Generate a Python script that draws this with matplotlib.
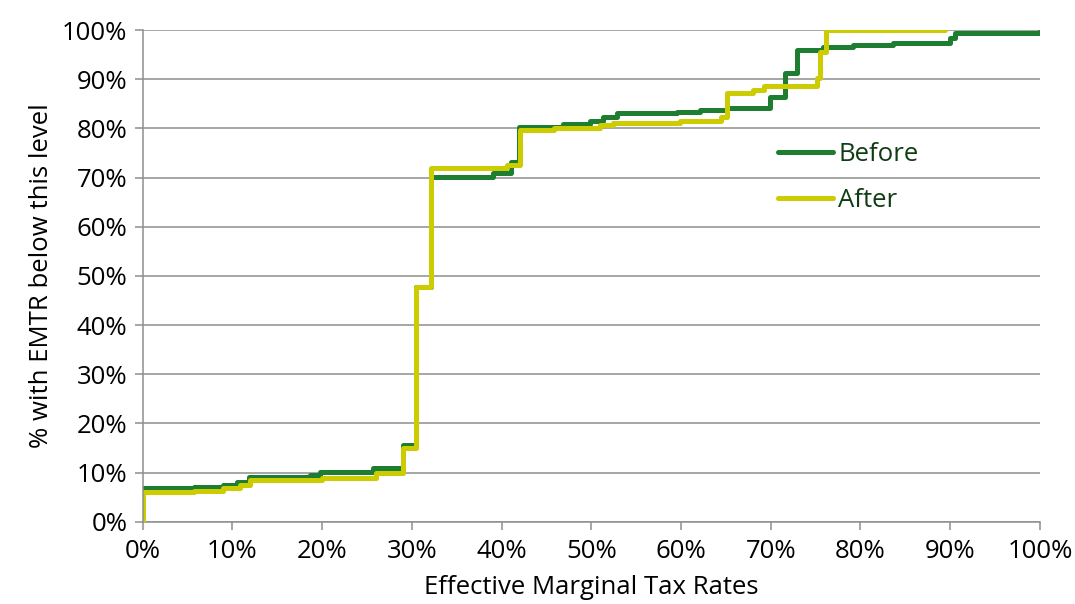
import matplotlib
matplotlib.use("Agg")
import matplotlib.pyplot as plt
from matplotlib.ticker import PercentFormatter

# step points (EMTR %, cumulative share %)
before_x = [0, 0, 5.7, 8.9, 10.5, 11.8, 18.7, 19.8, 25.7, 29.0, 30.5, 32.1, 39.1,
            41.0, 41.9, 46.9, 49.9, 51.3, 52.9, 59.6, 62.1, 65.1, 69.9, 71.6,
            72.9, 75.8, 79.2, 83.6, 90.0, 90.5, 100]
before_y = [0, 6.9, 7.1, 7.4, 8.1, 9.1, 9.5, 10.1, 10.9, 15.5, 47.8, 70.2, 71.0,
            73.2, 80.3, 80.9, 81.5, 82.3, 83.1, 83.3, 83.7, 84.2, 86.4, 91.3,
            95.9, 96.5, 97.0, 97.3, 98.3, 99.3, 99.8]

after_x = [0, 0, 5.7, 9.0, 10.9, 12.0, 20.0, 26.0, 29.0, 30.5, 32.1, 40.6, 42.1,
           45.8, 51.0, 52.4, 59.9, 64.4, 65.1, 68.0, 69.2, 75.2, 75.5, 76.2, 89.4]
after_y = [0, 6.1, 6.3, 6.9, 7.5, 8.5, 8.9, 10.0, 15.0, 47.8, 72.0, 72.6, 79.7,
           80.0, 80.7, 81.1, 81.5, 82.3, 87.2, 87.8, 88.6, 90.2, 95.5, 100, 100]

x_ticks = list(range(0, 101, 10))
y_ticks = list(range(0, 101, 10))

GREEN = "#1d7e32"
YELLOW = "#cccc00"
GRAY = "#8c8f8a"


def main():
    plt.rcParams["font.family"] = ["Open Sans", "DejaVu Sans"]
    fig = plt.figure(figsize=(10.75, 6.04), dpi=100)
    ax = fig.add_axes([0.1327, 0.1363, 0.8347, 0.814])

    ax.plot(before_x, before_y, drawstyle="steps-post", color=GREEN,
            lw=3.6, label="Before", solid_capstyle="round", zorder=3)
    ax.plot(after_x, after_y, drawstyle="steps-post", color=YELLOW,
            lw=3.6, label="After", solid_capstyle="round", zorder=4)

    ax.set_xlim(0, 100)
    ax.set_ylim(0, 100)
    ax.set_xticks(x_ticks)
    ax.set_yticks(y_ticks)
    ax.xaxis.set_major_formatter(PercentFormatter(decimals=0))
    ax.yaxis.set_major_formatter(PercentFormatter(decimals=0))
    ax.tick_params(axis="both", labelsize=18.5, colors=GRAY, labelcolor="black",
                   width=1.1, direction="out")
    ax.tick_params(axis="y", length=6, pad=5)
    ax.tick_params(axis="x", length=5.5, pad=7)

    ax.grid(axis="y", color=GRAY, lw=1.1)
    ax.set_axisbelow(True)
    for side in ["top", "right"]:
        ax.spines[side].set_visible(False)
    for side in ["left", "bottom"]:
        ax.spines[side].set_color(GRAY)
        ax.spines[side].set_linewidth(1.1)
    ax.spines["left"].set_zorder(5)

    ax.set_xlabel("Effective Marginal Tax Rates", fontsize=18.5, labelpad=8)
    ax.set_ylabel("% with EMTR below this level", fontsize=18.5, labelpad=6)

    leg = ax.legend(loc="upper left", bbox_to_anchor=(0.708, 0.772), frameon=False,
                    fontsize=18.5, handlelength=2.14, handletextpad=0.2,
                    labelspacing=0.82, borderaxespad=0, borderpad=0)
    for t in leg.get_texts():
        t.set_color("#0f3d12")

    fig.savefig("out.png", dpi=100)


if __name__ == "__main__":
    main()
